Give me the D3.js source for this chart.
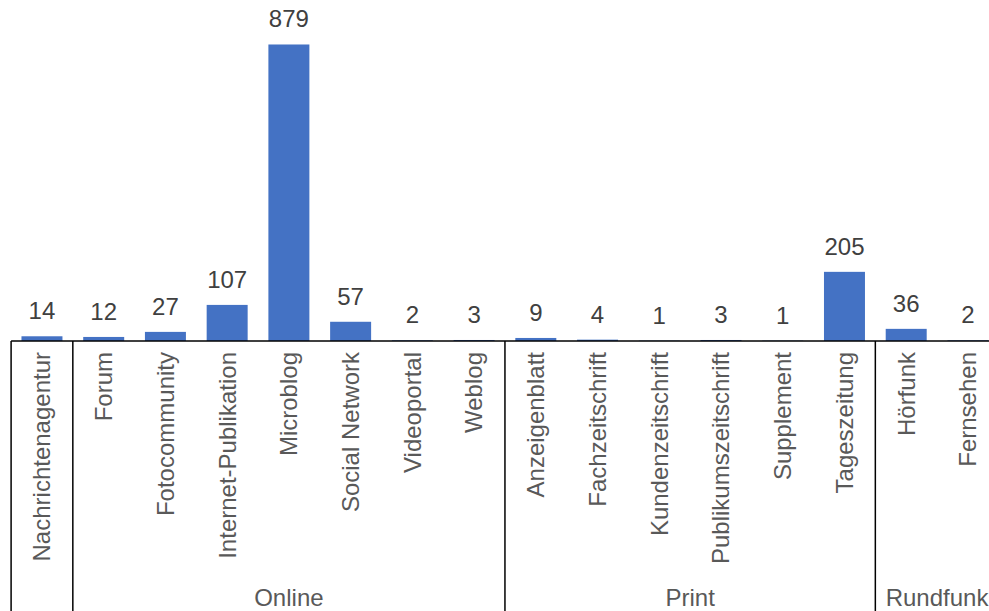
<!DOCTYPE html>
<html>
<head>
<meta charset="utf-8">
<script src="https://cdn.jsdelivr.net/npm/d3@7"></script>
<style>
  html, body { margin: 0; padding: 0; background: #fff; }
  svg { display: block; overflow: hidden; }
  text { font-family: Arial, "Liberation Sans", sans-serif; }
</style>
</head>
<body>
<svg id="chart" width="989" height="611"></svg>
<script>
const categories = ["Nachrichtenagentur", "Forum", "Fotocommunity", "Internet-Publikation", "Microblog", "Social Network", "Videoportal", "Weblog", "Anzeigenblatt", "Fachzeitschrift", "Kundenzeitschrift", "Publikumszeitschrift", "Supplement", "Tageszeitung", "Hörfunk", "Fernsehen"];
const values = [14, 12, 27, 107, 879, 57, 2, 3, 9, 4, 1, 3, 1, 205, 36, 2];
const groups = ["", "Online", "Online", "Online", "Online", "Online", "Online", "Online", "Print", "Print", "Print", "Print", "Print", "Print", "Rundfunk", "Rundfunk"];

const svg = d3.select("#chart");
const W = 989, H = 611;
const axisY = 341;

const x = d3.scaleBand()
  .domain(categories)
  .range([11.1, 998.8])
  .paddingInner(0.336)
  .paddingOuter(0.168);

const y = d3.scaleLinear()
  .domain([0, 900])
  .range([axisY, 37.4]);

const data = categories.map((c, i) => ({ cat: c, value: values[i], group: groups[i] }));

// bars
svg.append("g").selectAll("rect")
  .data(data)
  .join("rect")
  .attr("x", d => x(d.cat))
  .attr("width", x.bandwidth())
  .attr("y", d => y(d.value))
  .attr("height", d => y(0) - y(d.value))
  .attr("fill", "#4472C4");

// value labels
svg.append("g").selectAll("text")
  .data(data)
  .join("text")
  .attr("x", d => x(d.cat) + x.bandwidth() / 2)
  .attr("y", d => y(d.value) - 17)
  .attr("text-anchor", "middle")
  .attr("font-size", 24)
  .attr("fill", "#404040")
  .text(d => d.value);

// category labels (rotated)
svg.append("g").selectAll("text")
  .data(data)
  .join("text")
  .attr("transform", d => `translate(${x(d.cat) + x.bandwidth() / 2},352) rotate(-90)`)
  .attr("text-anchor", "end")
  .attr("dy", "0.35em")
  .attr("font-size", 24)
  .attr("fill", "#595959")
  .text(d => d.cat);

// group spans
const step = x.step();
const x0 = x.range()[0];
const groupSpans = [];
data.forEach((d, i) => {
  const last = groupSpans[groupSpans.length - 1];
  if (last && last.name === d.group) { last.end = i; }
  else groupSpans.push({ name: d.group, start: i, end: i });
});

// axis line
svg.append("line")
  .attr("x1", x0).attr("x2", W)
  .attr("y1", axisY).attr("y2", axisY)
  .attr("stroke", "#000").attr("stroke-width", 1.6);

// separators
const sepG = svg.append("g");
groupSpans.forEach(g => {
  const left = x0 + g.start * step;
  sepG.append("line")
    .attr("x1", left).attr("x2", left)
    .attr("y1", axisY).attr("y2", H)
    .attr("stroke", "#000").attr("stroke-width", 1.5);
});

// group labels
svg.append("g").selectAll("text")
  .data(groupSpans.filter(g => g.name))
  .join("text")
  .attr("x", g => x0 + (g.start + g.end + 1) / 2 * step)
  .attr("y", 606)
  .attr("text-anchor", "middle")
  .attr("font-size", 24)
  .attr("fill", "#595959")
  .text(g => g.name);
</script>
</body>
</html>
